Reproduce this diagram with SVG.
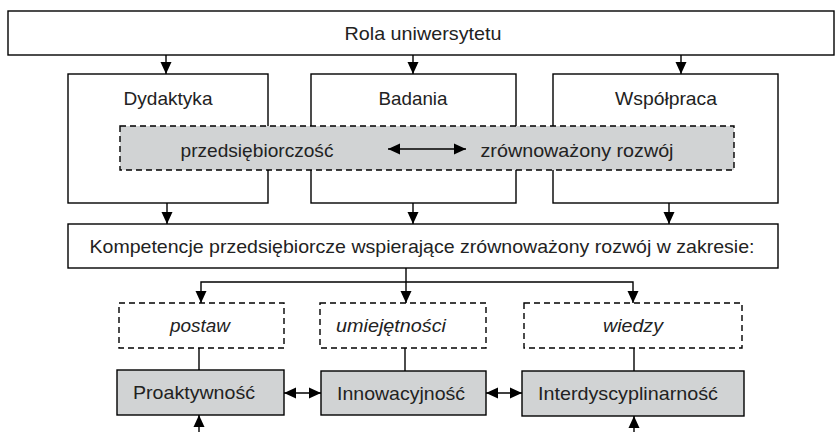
<svg xmlns="http://www.w3.org/2000/svg" width="835" height="432" viewBox="0 0 835 432">
<defs>
<marker id="ah" viewBox="0 0 12 12" refX="12" refY="6" markerWidth="12" markerHeight="12" markerUnits="userSpaceOnUse" orient="auto-start-reverse">
<path d="M0,0.5 L12,6 L0,11.5 Z" fill="#000"/>
</marker>
<style>
.box{fill:#fff;stroke:#000;stroke-width:1.4}
.gray{fill:#d1d3d4;stroke:#000;stroke-width:1.4}
.dash{stroke-dasharray:6,4}
.t{font-family:"Liberation Sans",Arial,sans-serif;font-size:19px;fill:#222;text-anchor:middle}
.i{font-style:italic}
.c{fill:none;stroke:#000;stroke-width:1.4}
.a{marker-end:url(#ah)}
.b{marker-start:url(#ah);marker-end:url(#ah)}
</style>
</defs>
<rect width="835" height="432" fill="#fff"/>
<g id="rola">
<rect class="box" x="8" y="11" width="826" height="44"/>
<text class="t" x="423" y="40" textLength="157" lengthAdjust="spacingAndGlyphs">Rola uniwersytetu</text>
</g>
<g id="dydaktyka">
<rect class="box" x="68" y="74" width="200" height="129"/>
<text class="t" x="168" y="105" textLength="89" lengthAdjust="spacingAndGlyphs">Dydaktyka</text>
</g>
<g id="badania">
<rect class="box" x="311" y="74" width="205" height="129"/>
<text class="t" x="413" y="105" textLength="69" lengthAdjust="spacingAndGlyphs">Badania</text>
</g>
<g id="wspolpraca">
<rect class="box" x="553" y="74" width="225" height="129"/>
<text class="t" x="666" y="105" textLength="102" lengthAdjust="spacingAndGlyphs">Współpraca</text>
</g>
<g id="pasmo">
<rect class="gray dash" x="120" y="126" width="614" height="44"/>
<text class="t" x="257" y="157" textLength="153" lengthAdjust="spacingAndGlyphs">przedsiębiorczość</text>
<text class="t" x="577" y="157" textLength="193" lengthAdjust="spacingAndGlyphs">zrównoważony rozwój</text>
</g>
<g id="kompetencje">
<rect class="box" x="68" y="224" width="710" height="44"/>
<text class="t" x="422" y="253" textLength="665" lengthAdjust="spacingAndGlyphs">Kompetencje przedsiębiorcze wspierające zrównoważony rozwój w zakresie:</text>
</g>
<g id="postaw">
<rect class="box dash" x="119" y="303" width="165" height="45"/>
<text class="t i" x="200" y="332" textLength="60" lengthAdjust="spacingAndGlyphs">postaw</text>
</g>
<g id="umiejetnosci">
<rect class="box dash" x="320" y="303" width="166" height="45"/>
<text class="t i" x="391" y="332" textLength="110" lengthAdjust="spacingAndGlyphs">umiejętności</text>
</g>
<g id="wiedzy">
<rect class="box dash" x="524" y="303" width="218" height="45"/>
<text class="t i" x="633" y="332" textLength="60" lengthAdjust="spacingAndGlyphs">wiedzy</text>
</g>
<g id="proaktywnosc">
<rect class="gray" x="117" y="370" width="167" height="45"/>
<text class="t" x="194" y="399" textLength="122" lengthAdjust="spacingAndGlyphs">Proaktywność</text>
</g>
<g id="innowacyjnosc">
<rect class="gray" x="321" y="371" width="165" height="44"/>
<text class="t" x="401" y="400" textLength="128" lengthAdjust="spacingAndGlyphs">Innowacyjność</text>
</g>
<g id="interdyscyplinarnosc">
<rect class="gray" x="522" y="371" width="222" height="45"/>
<text class="t" x="628" y="400" textLength="180" lengthAdjust="spacingAndGlyphs">Interdyscyplinarność</text>
</g>
<g id="connectors">
<line class="c a" x1="166" y1="55" x2="166" y2="74"/>
<line class="c a" x1="413" y1="55" x2="413" y2="74"/>
<line class="c a" x1="681" y1="55" x2="681" y2="74"/>
<line class="c b" x1="388" y1="149" x2="466" y2="149"/>
<line class="c a" x1="167" y1="203" x2="167" y2="224"/>
<line class="c a" x1="413" y1="203" x2="413" y2="224"/>
<line class="c a" x1="669" y1="203" x2="669" y2="224"/>
<line class="c a" x1="406" y1="268" x2="406" y2="303"/>
<polyline class="c a" points="406,282 201,282 201,303"/>
<polyline class="c a" points="406,282 633,282 633,303"/>
<line class="c" x1="199" y1="348" x2="199" y2="370"/>
<line class="c" x1="405" y1="348" x2="405" y2="371"/>
<line class="c" x1="634" y1="348" x2="634" y2="371"/>
<line class="c b" x1="284" y1="393" x2="321" y2="393"/>
<line class="c b" x1="486" y1="393" x2="522" y2="393"/>
<line class="c a" x1="199" y1="432" x2="199" y2="415"/>
<line class="c a" x1="634" y1="432" x2="634" y2="416"/>
</g>
</svg>
